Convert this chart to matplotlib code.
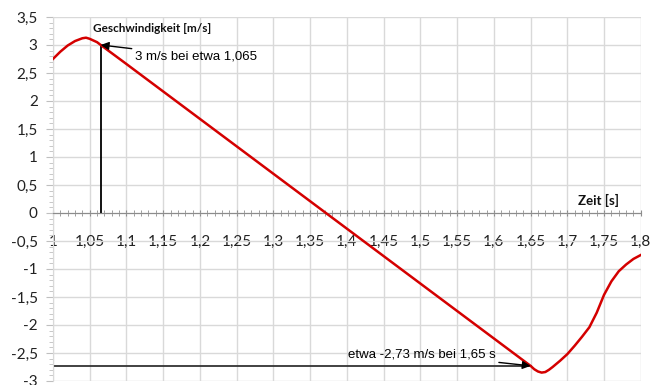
import matplotlib
matplotlib.use('Agg')
import matplotlib.pyplot as plt
from matplotlib.ticker import MultipleLocator, FuncFormatter

# time [s] and speed [m/s]
zeit = [1.0, 1.01, 1.02, 1.03, 1.04, 1.045, 1.05, 1.06, 1.065,
        1.1, 1.15, 1.2, 1.25, 1.3, 1.35, 1.4, 1.45, 1.5, 1.55, 1.6, 1.65,
        1.655, 1.66, 1.665, 1.67, 1.675, 1.68, 1.69, 1.7, 1.71, 1.72,
        1.73, 1.74, 1.75, 1.76, 1.77, 1.78, 1.79, 1.8]
geschw = [2.75, 2.88, 2.99, 3.07, 3.12, 3.13, 3.11, 3.05, 3.0,
          2.66, 2.17, 1.68, 1.19, 0.70, 0.21, -0.28, -0.77, -1.26, -1.75, -2.24, -2.73,
          -2.79, -2.83, -2.85, -2.84, -2.80, -2.75, -2.64, -2.52, -2.37, -2.21,
          -2.04, -1.78, -1.46, -1.22, -1.04, -0.92, -0.82, -0.75]

mark_top = (1.065, 3.0)
mark_bottom = (1.65, -2.73)


def komma(v, pos):
    return f'{v:g}'.replace('.', ',')


fig = plt.figure(figsize=(6.62, 3.85), dpi=100)
ax = fig.add_axes([0.080, 0.0104, 0.888, 0.9455])

ax.set_xlim(1.0, 1.8)
ax.set_ylim(-3.0, 3.5)

ax.xaxis.set_major_locator(MultipleLocator(0.05))
ax.xaxis.set_minor_locator(MultipleLocator(0.01))
ax.yaxis.set_major_locator(MultipleLocator(0.5))
ax.yaxis.set_minor_locator(MultipleLocator(0.1))
ax.xaxis.set_major_formatter(FuncFormatter(komma))
ax.yaxis.set_major_formatter(FuncFormatter(komma))

ax.grid(True, which='major', color='#d9d9d9', lw=1.0, zorder=0)
ax.set_axisbelow(True)

for s in ['top', 'right']:
    ax.spines[s].set_visible(False)
ax.spines['bottom'].set_position(('data', 0))
ax.spines['bottom'].set_color('#8c8c8c')
ax.spines['left'].set_color('#d9d9d9')

ax.tick_params(axis='x', which='both', direction='inout', color='#8c8c8c')
ax.tick_params(axis='x', which='major', length=5, pad=13, labelsize=11)
ax.tick_params(axis='x', which='minor', length=4)
ax.tick_params(axis='y', which='both', direction='out', color='#bfbfbf')
ax.tick_params(axis='y', which='major', length=5, pad=6, labelsize=11)
ax.tick_params(axis='y', which='minor', length=3)
for lbl in ax.get_xticklabels() + ax.get_yticklabels():
    lbl.set_family('Lato')
    lbl.set_color('#222222')

ax.plot(zeit, geschw, color='#d40000', lw=1.8, zorder=3)

# marker lines for the two read-off points
ax.plot([mark_top[0], mark_top[0]], [0, mark_top[1]], color='black', lw=1.3, zorder=2)
ax.plot([1.0, mark_bottom[0]], [mark_bottom[1], mark_bottom[1]], color='#333333', lw=1.3, zorder=2)

arrow = dict(arrowstyle='-|>', color='black', lw=1.0, mutation_scale=12, shrinkA=0, shrinkB=0)
ax.annotate('3 m/s bei etwa 1,065', xy=mark_top, xytext=(1.111, 2.80),
            fontsize=9.5, family='Liberation Sans', va='center', ha='left',
            arrowprops=arrow, zorder=4)
ax.annotate('etwa -2,73 m/s bei 1,65 s', xy=mark_bottom, xytext=(1.402, -2.52),
            fontsize=9.5, family='Liberation Sans', va='center', ha='left',
            arrowprops=arrow, zorder=4)

ax.text(1.0544, 3.30, 'Geschwindigkeit [m/s]', fontsize=8.5, fontweight='bold',
        family='Lato', va='center', ha='left', color='#111111')
ax.text(1.714, 0.23, 'Zeit [s]', fontsize=9.5, fontweight='bold',
        family='Lato', va='center', ha='left', color='#111111')

fig.savefig('out.png', dpi=100)
